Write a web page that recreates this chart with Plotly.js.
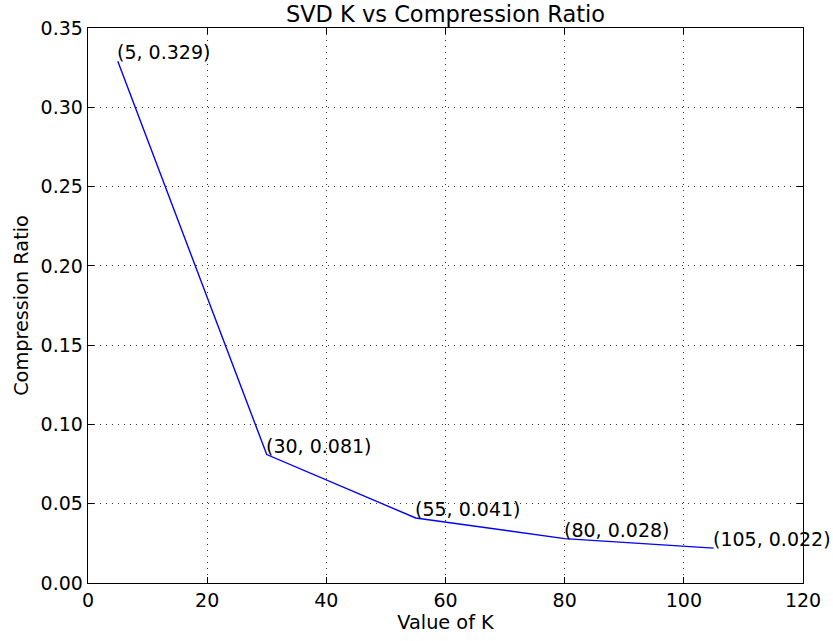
<!DOCTYPE html>
<html>
<head>
<meta charset="utf-8">
<script src="https://cdn.plot.ly/plotly-3.0.1.min.js"></script>
<style>html,body{margin:0;padding:0;background:#fff;}#chart{width:833px;height:641px;}</style>
</head>
<body>
<div id="chart"></div>
<script>
const kValues = [5, 30, 55, 80, 105];
const ratios = [0.329, 0.081, 0.041, 0.028, 0.022];
const labels = ["(5, 0.329)", "(30, 0.081)", "(55, 0.041)", "(80, 0.028)", "(105, 0.022)"];
const xTicks = [0, 20, 40, 60, 80, 100, 120];
const yTicks = [0.00, 0.05, 0.10, 0.15, 0.20, 0.25, 0.30, 0.35];

const font = "DejaVu Sans, sans-serif";
const trace = {
  x: kValues, y: ratios, type: "scatter", mode: "lines",
  line: {color: "#0000ff", width: 1.4}, hoverinfo: "none", cliponaxis: false
};
const annotations = kValues.map((k, i) => ({
  x: k, y: ratios[i], xref: "x", yref: "y", text: labels[i], showarrow: false,
  xanchor: "left", yanchor: "bottom", xshift: -3, yshift: -4,
  font: {family: font, size: 19, color: "#000"}
}));
const axisCommon = {
  showline: true, linecolor: "#000", linewidth: 1.3, mirror: "allticks",
  ticks: "inside", ticklen: 6, tickcolor: "#000", tickwidth: 1,
  showgrid: true, gridcolor: "#333", gridwidth: 1, griddash: "1px,5px",
  zeroline: false, tickfont: {family: font, size: 19, color: "#000"}
};
const layout = {
  width: 833, height: 641,
  margin: {l: 88, r: 30, t: 28, b: 58},
  paper_bgcolor: "#fff", plot_bgcolor: "#fff",
  showlegend: false,
  title: {text: "SVD K vs Compression Ratio", font: {family: font, size: 22.5, color: "#000"}, x: 0.5, xref: "paper", y: 0.978, yanchor: "middle"},
  xaxis: Object.assign({}, axisCommon, {
    range: [0, 120], tickvals: xTicks, ticktext: xTicks.map(String),
    title: {text: "Value of K", font: {family: font, size: 19.3, color: "#000"}, standoff: 4}
  }),
  yaxis: Object.assign({}, axisCommon, {
    range: [0, 0.35], tickvals: yTicks, ticktext: yTicks.map(v => v.toFixed(2)),
    title: {text: "Compression Ratio", font: {family: font, size: 19.3, color: "#000"}, standoff: 6}
  }),
  annotations: annotations
};
Plotly.newPlot("chart", [trace], layout, {displayModeBar: false, staticPlot: true});
</script>
</body>
</html>
